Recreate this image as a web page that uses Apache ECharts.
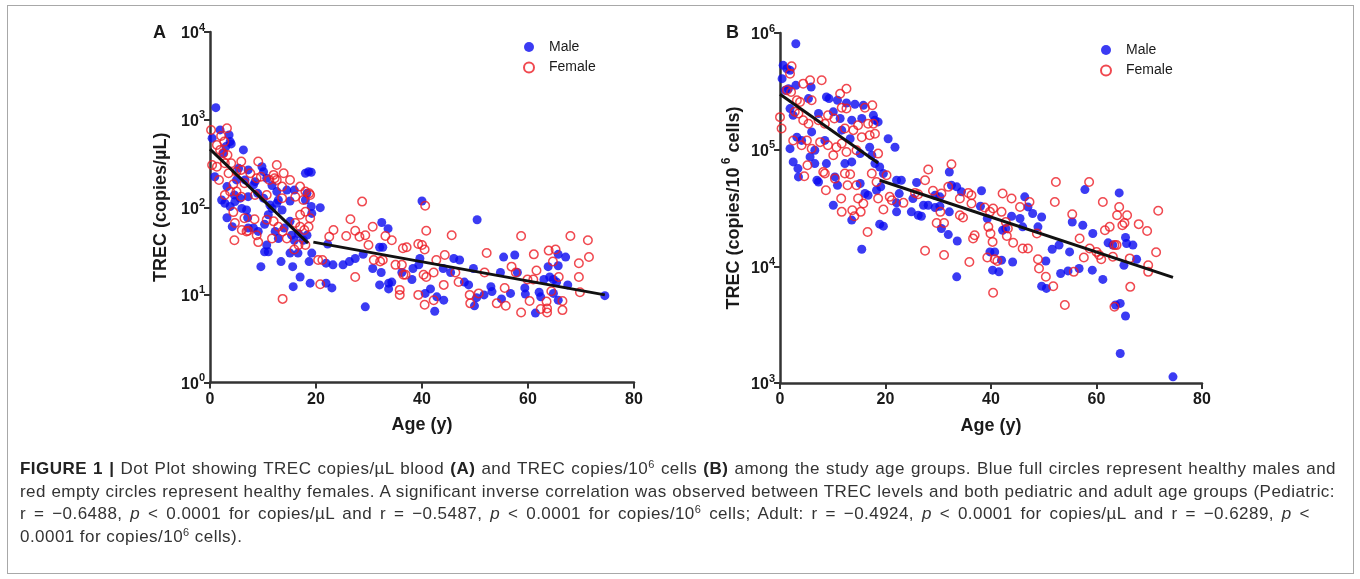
<!DOCTYPE html>
<html>
<head>
<meta charset="utf-8">
<script src="https://cdn.jsdelivr.net/npm/echarts@6.0.0/dist/echarts.min.js"></script>
<style>
  html, body { margin: 0; padding: 0; background: #fff; }
  #wrap { position: relative; width: 1360px; height: 579px; overflow: hidden; background: #fff; }
  #chart { position: absolute; left: 0; top: 0; width: 1360px; height: 579px; }
  #frame { position: absolute; left: 7px; top: 5px; width: 1345px; height: 567px; border: 1px solid #a8a8a8; pointer-events: none; }
  #cap { position: absolute; left: 20px; top: 458px; font-family: 'Liberation Sans', Arial, sans-serif; font-size: 17px; line-height: 22.7px; color: #333; letter-spacing: 0.45px; }
  #cap .j { text-align: justify; text-align-last: justify; white-space: nowrap; }
  #cap b { font-weight: bold; color: #222; }
  #cap sup { font-size: 11px; line-height: 0; vertical-align: 6px; }
</style>
</head>
<body>
<div id="wrap">
  <div id="chart"></div>
  <div id="frame"></div>
  <div id="cap">
    <div class="j" style="width:1316px"><b>FIGURE 1 |</b> Dot Plot showing TREC copies/µL blood <b>(A)</b> and TREC copies/10<sup>6</sup> cells <b>(B)</b> among the study age groups. Blue full circles represent healthy males and</div>
    <div class="j" style="width:1315px">red empty circles represent healthy females. A significant inverse correlation was observed between TREC levels and both pediatric and adult age groups (Pediatric:</div>
    <div class="j" style="width:1290px">r = −0.6488, <i>p</i> &lt; 0.0001 for copies/µL and r = −0.5487, <i>p</i> &lt; 0.0001 for copies/10<sup>6</sup> cells; Adult: r = −0.4924, <i>p</i> &lt; 0.0001 for copies/µL and r = −0.6289, <i>p</i> &lt;</div>
    <div>0.0001 for copies/10<sup>6</sup> cells).</div>
  </div>
</div>
<script>
// ---- Data (age in years, TREC value) ----
const ageTicks = [0, 20, 40, 60, 80];
const seriesNames = ['Male', 'Female'];

// Panel A: TREC copies/µL
const maleA = [
  [1.1,1370],[0.4,614],[1.9,763],[3.6,669],[3.8,561],[4.0,528],[6.3,451],[3.0,492],[2.5,413],[0.9,223],
  [5.4,278],[7.2,267],[9.8,290],[10.1,255],[10.7,214],[8.5,196],[6.6,205],[5.0,205],[3.2,172],[4.6,138],
  [7.2,132],[9.0,144],[8.2,180],[11.7,177],[12.6,151],[14.5,157],[15.9,157],[18.0,244],[18.6,255],[19.1,251],
  [18.3,144],[11.3,106],[12.9,121],[15.1,118],[10.1,127],[2.2,121],[2.8,111],[3.8,102],[4.7,116],[5.7,127],
  [3.2,76],[4.2,60],[6.0,97],[6.9,93],[7.1,76],[7.2,58],[8.2,58],[9.1,53],[10.3,64],[11.0,82],
  [11.7,97],[12.6,111],[13.6,93],[12.3,53],[12.9,44],[14.0,58],[15.1,69],[15.4,48],[15.9,42],[16.7,50],
  [10.7,37],[10.3,31],[11.0,31],[9.6,21],[13.4,24],[15.6,21],[15.1,30],[16.6,30],[17.0,16],[15.7,12.4],
  [18.9,13.6],[18.7,24],[19.2,30],[17.6,42],[18.3,48],[19.1,102],[19.2,85],[18.0,121],
  [40,118],[50.4,72],[20.8,99],[32.4,67],[33.6,57],[22.2,38],[21.9,23],[23.2,22],[25.1,22],[26.3,24],
  [27.4,26],[28.9,29],[32,35],[32.6,35],[30.7,20],[32.3,18],[32,13],[33.7,13.6],[34.3,14],[33.7,11.7],
  [36.2,18],[38.1,15],[38.3,20],[39.4,22],[39.6,26],[21.9,13.6],[23,12],
  [29.3,7.3],[40.6,10.4],[41.6,11.7],[42.8,9.5],[44.1,8.7],[42.4,6.5],[44,20],[46,26],[47.1,25],[45.4,18],
  [48,14],[48.8,13],[49.7,20],[50.3,9.3],[49.9,7.5],[51.7,10],[53,12.4],[53.2,10.9],[54.8,18],[55.4,27],
  [57.5,28.5],[55,9],[56.7,10.4],[58,18],[59.4,12],[59.5,10.2],[61.4,6.2],[62.1,10.7],[62.4,9.5],[63,15],
  [64.1,16],[63.8,21],[64.8,15],[65.4,14],[65.7,29],[67.1,27],[65.7,21.5],[64.8,10.4],[65.7,8.7],[67.5,13],[74.5,9.8]
];
const femaleA = [
  [0.2,763],[3.2,797],[2.1,649],[2.7,561],[1.3,514],[1.9,451],[2.5,413],[3.3,395],[0.4,304],[1.3,290],
  [2.8,318],[4,318],[3.5,244],[5,255],[5.9,267],[5.9,332],[7.6,244],[9.1,332],[8.8,214],[9.6,223],
  [6.5,188],[1.7,205],[4.4,183],[12.6,304],[13.9,244],[12,234],[12.2,214],[12.6,205],[11.2,205],[15.1,205],
  [17,172],[18,151],[18.7,144],[13.6,172],[3.8,151],[5,151],[2.8,138],[5.9,132],[8.5,138],[10.7,138],
  [13.6,127],[17.6,121],[18.9,138],[16.1,132],[4.4,88],[6.5,75],[8.4,73],[4.6,42],[6,55],[7.2,54],
  [8.8,48],[9.1,40],[10.7,72],[12,69],[12.9,60],[13.7,53],[11.7,44],[14.5,44],[16.1,66],[17,60],
  [17.8,55],[18.6,60],[17,82],[18,89],[18.9,75],[16.7,37],[15.9,33],[18,37],[20.4,25],[21.2,25],
  [20.8,13.2],[13.7,9],[23.3,55],[22.5,46],[4.7,66],[6.9,53],
  [28.7,116],[26.5,73],[40.6,104],[40.8,54],
  [25.7,47],[27.4,54],[28.2,46],[29.3,48],[30.7,60],[33.1,47],[34.3,42],[29.9,37],[27.4,16],[30.9,25],
  [32.1,24],[32.6,25],[35,22],[36.2,22],[36.5,17],[36.9,17],[36.4,34],[37.1,35],[35.8,11.4],[35.8,10],
  [39.3,38],[40,37],[40.5,33],[40.3,17],[40.8,16],[39.3,10],[40.5,7.7],[42.2,8.7],[42.2,18],[42.7,25],
  [44.1,13],[44.3,28.5],[45.6,48],[46.9,14],[46.3,18],[49,10],[49.1,8],[50.7,10.4],[52.2,30],[51.8,18],
  [54.1,8],[55.6,12],[55.8,7.5],[56.9,21],[57.7,18],[58.7,47],[58.7,6.3],[59.9,15],[60.3,8.5],[61.1,29],
  [61.6,19],[61,15],[62.4,6.9],[63.5,8.4],[63.6,7],[63.6,6.3],[63.9,32],[65.2,33],[64.7,24],[64.4,11],
  [65.8,16],[66.5,8.5],[66.5,6.7],[68,47],[69.6,23],[69.6,16],[69.8,10.7],[71.5,27],[71.3,42]
];
const pedFitA = [[0, 460], [18.5, 39]];
const adultFitA = [[19.5, 40], [74.5, 10]];

// Panel B: TREC copies/10^6 cells
const maleB = [
  [3,809000],[0.6,528000],[1.3,494000],[1.9,479000],[0.4,406000],[3,356000],[1.6,333000],[1,323000],[5.9,344000],[5.4,274000],
  [8.8,283000],[9.3,274000],[10.9,265000],[12.6,251000],[14.2,245000],[15.8,240000],[1.9,225000],[2.5,197000],[7.3,204000],[10.1,211000],
  [15.5,185000],[17.7,197000],[18,179000],[18.6,173000],[13.6,179000],[11.4,185000],[20.5,124000],[21.8,105000],[3.2,128000],[4.1,120000],
  [6,142000],[8.5,120000],[11.7,147000],[13.3,124000],[17,105000],[6.6,98900],[1.9,102000],[5.7,86700],[15.2,92500],[17.4,89600],
  [2.5,78500],[3.4,68800],[3.5,58400],[6.6,76000],[7,54700],[7.3,52800],[8.8,76000],[10.4,58400],[10.9,49600],[12.3,76000],
  [13.6,78500],[15.2,51300],[16.1,42100],[16.7,40700],[18,76000],[18.3,44900],[19.1,48000],[18.9,71100],[19.6,62400],[22.1,35000],
  [10.1,33400],[13.6,24900],[18.9,23000],[19.6,22100],[15.5,14000],
  [32.1,64400],[22.1,54700],[23,54700],[25.9,52300],[32.5,49600],[33.5,48000],[38.2,44400],[46.4,39400],[57.8,45500],[64.3,42600],
  [34.4,43500],[29.4,40700],[30.3,39400],[22.6,42000],[25.2,38100],
  [22.1,29300],[24.9,29300],[26.2,27400],[26.8,26900],[27.2,33400],[28.1,33400],[29.4,31900],[30.3,32700],[30.6,21100],[32.1,29300],
  [31.9,18700],[33.6,16500],[33.5,8130],[38,32700],[39.3,25700],[39.8,13300],[40.7,13300],[40.3,9270],[41.5,8970],[42,11300],
  [42.2,20400],[42.8,21100],[43.9,26900],[44.1,10900],[45.5,25700],[46,21800],[47,32300],[47.9,28400],[48.9,21800],[49.6,26500],
  [49.6,6760],[50.5,6470],[50.4,11100],[51.6,14000],[52.9,15200],[53.2,8690],[54.6,9140],[54.9,13300],[55.4,24000],[57.4,22500],
  [56.7,9590],[59.3,19100],[59.2,9270],[61.2,7730],[62.2,15900],[63.1,15200],[63.6,4660],[64.5,4810],[64.5,1790],[65.2,10200],
  [65.5,17700],[65.7,15700],[65.5,3750],[66.9,15200],[67.6,11500],[74.5,1130]
];
const femaleB = [
  [2.2,518000],[1.9,448000],[4.4,368000],[5.7,393000],[7.9,393000],[1.3,323000],[2.1,312000],[11.4,302000],[12.6,333000],[3.2,265000],
  [3.8,256000],[6,265000],[11.7,229000],[12.6,225000],[16.1,229000],[17.5,240000],[0,190000],[0.3,152000],[2.8,211000],[3.5,204000],
  [4.4,179000],[5.4,167000],[7.3,179000],[8.5,167000],[9.1,197000],[10.3,185000],[14.8,162000],[16.7,167000],[17.7,167000],[12.3,152000],
  [13.9,147000],[15.5,128000],[17,133000],[2.5,120000],[4.1,109000],[5.1,120000],[7.6,116000],[9.1,109000],[10.7,105000],[11.7,113000],
  [18,137000],[6,102000],[12.6,95500],[14.5,98900],[10.1,89600],[18.6,92500],
  [4.6,59200],[5.2,73400],[8.2,64400],[8.5,62400],[10.4,56500],[12.3,62400],[13.3,61500],[12.8,49600],[8.7,44900],[11.6,38100],
  [11.7,29300],[13.7,30300],[15.3,29300],[14.1,26900],[14.8,38100],[15.8,34600],[18.6,38100],[19.6,30700],[20.8,39400],[21.2,36900],
  [16.6,19700],[17.4,62400],[18.3,52800],[20.2,60400],[23.4,35000],[14.5,49600],
  [28.1,67600],[32.5,75000],[31.9,48000],[27.5,54700],[29,44400],[30.6,42100],[25.6,42600],[26.2,41500],[35.7,42600],[36.3,40700],
  [36.3,34600],[34.1,38100],[42.2,42100],[43.9,38100],[52.3,52800],[58.6,52800],[47.3,35600],
  [27.5,13600],[29.7,23500],[30.4,29300],[31.1,23500],[31.1,12500],[34.1,27400],[34.7,26200],[35.9,10900],[36.6,17300],[36.9,18500],
  [38.8,31900],[39.8,29300],[40.4,31300],[42,29300],[45.5,32300],[55.4,28000],[63.9,27400],[65.8,27400],[64.3,32300],[71.7,29900],
  [52.1,35600],[61.2,35600],
  [39.5,21800],[39.9,19100],[39.3,11900],[40.3,16200],[40.4,5930],[40.7,11500],[41.2,11100],[42.8,24000],[43.2,21100],[43,18200],
  [44.2,15900],[46,14200],[47,14200],[48.7,19100],[48.9,11500],[49.1,9590],[50.4,8130],[51.8,6760],[54,4660],[55.7,8970],
  [56.8,17300],[57.6,11900],[58.7,14200],[60,13300],[60.5,12500],[60.9,11500],[61.6,20400],[62.5,21800],[63.4,15200],[63.8,15200],
  [63.1,12100],[63.4,4500],[64.9,22500],[65.3,23500],[66.3,11700],[66.4,6670],[68,23000],[69.6,20100],[69.8,10200],[69.8,8970],[71.3,13200]
];
const pedFitB = [[0, 298000], [18.6, 77000]];
const adultFitB = [[18.9, 54700], [74.5, 8040]];

// ---- Styles ----
const BLUE = '#0a0af0';
const RED = '#ec1c24';
const AXIS = '#333';
const TXT = '#1a1a1a';
const FONT = "'Liberation Sans', Arial, sans-serif";

function xAxisFor(grid) {
  return {
    gridIndex: grid, type: 'value', min: ageTicks[0], max: ageTicks[ageTicks.length - 1], interval: 20,
    axisLine: { show: true, onZero: false, lineStyle: { color: AXIS, width: 2.5 } },
    axisTick: { show: true, length: 6, lineStyle: { color: AXIS, width: 2 } },
    axisLabel: { fontSize: 16, fontWeight: 'bold', color: TXT, fontFamily: FONT, margin: 9 },
    splitLine: { show: false },
    name: 'Age (y)', nameLocation: 'middle', nameGap: 34,
    nameTextStyle: { fontSize: 18, fontWeight: 'bold', color: TXT, fontFamily: FONT }
  };
}
const supRich = {
  b: { fontSize: 16, fontWeight: 'bold', color: TXT, fontFamily: FONT, lineHeight: 20, verticalAlign: 'bottom' },
  s: { fontSize: 11, fontWeight: 'bold', color: TXT, fontFamily: FONT, lineHeight: 12, verticalAlign: 'top' }
};
function yAxisFor(grid, min, max, name, gap) {
  return {
    gridIndex: grid, type: 'log', logBase: 10, min: min, max: max,
    axisLine: { show: true, onZero: false, lineStyle: { color: AXIS, width: 2.5 } },
    axisTick: { show: true, length: 6, lineStyle: { color: AXIS, width: 2 } },
    axisLabel: {
      margin: 5,
      formatter: v => '{b|10}{s|' + Math.round(Math.log10(v)) + '}',
      rich: supRich
    },
    splitLine: { show: false },
    name: name, nameLocation: 'middle', nameRotate: 90, nameGap: gap,
    nameTextStyle: {
      fontSize: 18, fontWeight: 'bold', color: TXT, fontFamily: FONT,
      rich: { s: { fontSize: 12, fontWeight: 'bold', color: TXT, fontFamily: FONT, lineHeight: 12, verticalAlign: 'top' },
              n: { fontSize: 18, fontWeight: 'bold', color: TXT, fontFamily: FONT, lineHeight: 22, verticalAlign: 'bottom' } }
    }
  };
}
function maleSeries(xi, data) {
  return { type: 'scatter', name: seriesNames[0], xAxisIndex: xi, yAxisIndex: xi, data: data,
    symbol: 'circle', symbolSize: 9, itemStyle: { color: BLUE }, z: 2 };
}
function femaleSeries(xi, data) {
  return { type: 'scatter', name: seriesNames[1], xAxisIndex: xi, yAxisIndex: xi, data: data,
    symbol: 'circle', symbolSize: 8.5, itemStyle: { color: 'rgba(255,255,255,0)', borderColor: RED, borderWidth: 1.5 }, z: 3 };
}
function fitSeries(xi, data) {
  return { type: 'line', xAxisIndex: xi, yAxisIndex: xi, data: data, symbol: 'none', silent: true,
    lineStyle: { color: '#111', width: 3 }, z: 4 };
}
function legendFor(left, top) {
  return { data: seriesNames, orient: 'vertical', left: left, top: top, itemWidth: 30, itemHeight: 10, itemGap: 6.5,
    selectedMode: false, textStyle: { fontSize: 14, color: TXT, fontFamily: FONT } };
}

const chart = echarts.init(document.getElementById('chart'), null, { renderer: 'canvas' });
chart.setOption({
  backgroundColor: 'transparent',
  animation: false,
  grid: [
    { left: 210, top: 32, width: 424, height: 350.5 },
    { left: 780, top: 33, width: 422, height: 350 }
  ],
  xAxis: [xAxisFor(0), xAxisFor(1)],
  yAxis: [
    yAxisFor(0, 1, 10000, 'TREC (copies/µL)', 40),
    yAxisFor(1, 1000, 1000000, '{n|TREC (copies/10}{s| 6}{n| cells)}', 37)
  ],
  legend: [legendFor(518, 35), legendFor(1095, 38)],
  graphic: [
    { type: 'text', left: 153, top: 24, style: { text: 'A', fontSize: 18, fontWeight: 'bold', fill: TXT, fontFamily: FONT } },
    { type: 'text', left: 726, top: 24, style: { text: 'B', fontSize: 18, fontWeight: 'bold', fill: TXT, fontFamily: FONT } }
  ],
  series: [
    maleSeries(0, maleA), femaleSeries(0, femaleA), fitSeries(0, pedFitA), fitSeries(0, adultFitA),
    maleSeries(1, maleB), femaleSeries(1, femaleB), fitSeries(1, pedFitB), fitSeries(1, adultFitB)
  ]
});
</script>
</body>
</html>
